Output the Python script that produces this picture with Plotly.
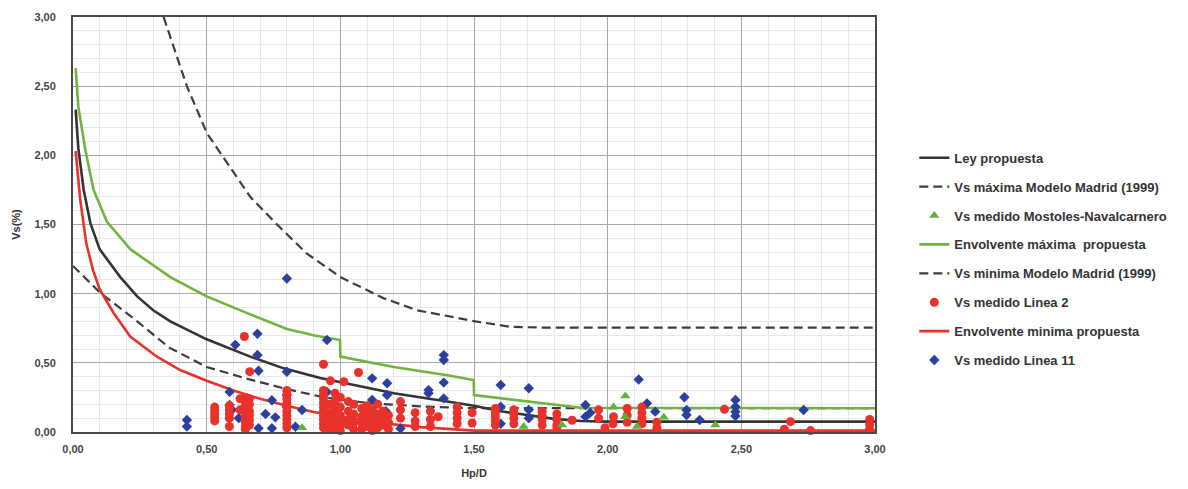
import plotly.graph_objects as go

# ---------------- curves ----------------
ley_x = [0.01, 0.02, 0.04, 0.065, 0.10, 0.177, 0.24, 0.30, 0.364, 0.50, 0.663, 0.788, 0.925, 1.00, 1.20, 1.40, 1.50, 1.60, 1.70, 1.80, 1.90, 2.00, 3.00]
ley_y = [2.33, 2.05, 1.75, 1.51, 1.32, 1.12, 0.98, 0.88, 0.80, 0.67, 0.545, 0.46, 0.39, 0.36, 0.28, 0.22, 0.19, 0.15, 0.12, 0.095, 0.08, 0.075, 0.075]

vsmax_x = [0.339, 0.426, 0.501, 0.557, 0.663, 0.763, 0.875, 1.00, 1.162, 1.287, 1.505, 1.636, 1.75, 3.00]
vsmax_y = [3.00, 2.50, 2.16, 2.00, 1.70, 1.50, 1.29, 1.12, 0.967, 0.88, 0.80, 0.76, 0.755, 0.755]

envmax_x = [0.01, 0.02, 0.046, 0.077, 0.127, 0.215, 0.364, 0.50, 0.663, 0.80, 0.90, 0.999, 1.00, 1.20, 1.40, 1.499, 1.50, 1.60, 1.70, 1.80, 1.90, 3.00]
envmax_y = [2.63, 2.35, 2.04, 1.75, 1.52, 1.32, 1.12, 0.98, 0.85, 0.745, 0.70, 0.665, 0.545, 0.47, 0.41, 0.376, 0.267, 0.244, 0.22, 0.195, 0.175, 0.172]

vsmin_x = [0.00, 0.10, 0.24, 0.36, 0.50, 0.66, 0.80, 0.94, 1.10, 1.30, 1.50, 3.00]
vsmin_y = [1.20, 1.01, 0.80, 0.61, 0.47, 0.38, 0.31, 0.25, 0.21, 0.185, 0.172, 0.172]

envmin_x = [0.01, 0.027, 0.05, 0.075, 0.10, 0.152, 0.214, 0.314, 0.401, 0.50, 0.60, 0.70, 0.80, 0.90, 1.00, 1.10, 1.20, 1.30, 1.40, 1.50, 3.00]
envmin_y = [2.03, 1.68, 1.36, 1.17, 1.03, 0.86, 0.69, 0.544, 0.448, 0.37, 0.30, 0.24, 0.19, 0.145, 0.11, 0.08, 0.055, 0.035, 0.02, 0.01, 0.01]

# ---------------- measured points ----------------
l2_x = [0.53, 0.53, 0.53, 0.53, 0.53,
        0.585, 0.585, 0.585, 0.585, 0.585,
        0.641, 0.645, 0.645, 0.645, 0.645, 0.645, 0.645, 0.645, 0.645, 0.645,
        0.661, 0.66, 0.66, 0.66, 0.66, 0.66, 0.66, 0.625, 0.625,
        0.80, 0.80, 0.80, 0.80, 0.80, 0.80, 0.80, 0.80, 0.80, 0.80,
        0.937, 0.937, 0.937, 0.937, 0.937, 0.937, 0.937, 0.937, 0.937, 0.937, 0.937,
        0.963, 0.96, 0.96, 0.96, 0.96, 0.96,
        0.98, 0.98, 0.98, 0.98, 0.98, 0.98,
        1.00, 1.00, 1.00, 1.00, 1.00, 1.00, 1.013,
        1.03, 1.03, 1.03, 1.03, 1.05, 1.05, 1.05, 1.05, 1.068,
        1.08, 1.08, 1.08, 1.08, 1.10, 1.10, 1.10, 1.10,
        1.12, 1.12, 1.12, 1.12, 1.14, 1.14, 1.14, 1.14,
        1.16, 1.16, 1.16, 1.18, 1.18, 1.18,
        1.225, 1.225, 1.225, 1.28, 1.28, 1.28, 1.337, 1.337, 1.337, 1.366,
        1.437, 1.437, 1.437, 1.437, 1.493, 1.493,
        1.58, 1.58, 1.58, 1.58, 1.58, 1.649, 1.649, 1.649, 1.649,
        1.755, 1.755, 1.755, 1.755, 1.81, 1.81, 1.81, 1.81, 1.867,
        1.966, 1.966, 1.99, 2.022, 2.02, 2.073, 2.073, 2.073,
        2.128, 2.128, 2.128, 2.128, 2.184, 2.184,
        2.437, 2.684, 2.661, 2.759, 2.98, 2.98, 2.98]
l2_y = [0.18, 0.155, 0.13, 0.105, 0.08,
        0.19, 0.16, 0.13, 0.10, 0.04,
        0.69, 0.25, 0.22, 0.19, 0.16, 0.13, 0.10, 0.07, 0.04, 0.02,
        0.436, 0.24, 0.20, 0.15, 0.12, 0.085, 0.05, 0.24, 0.16,
        0.30, 0.27, 0.24, 0.21, 0.18, 0.15, 0.12, 0.09, 0.06, 0.03,
        0.49, 0.30, 0.27, 0.24, 0.21, 0.18, 0.15, 0.12, 0.09, 0.06, 0.03,
        0.37, 0.20, 0.14, 0.10, 0.05, 0.02,
        0.28, 0.22, 0.16, 0.11, 0.07, 0.03,
        0.25, 0.18, 0.12, 0.08, 0.04, 0.01, 0.364,
        0.22, 0.15, 0.09, 0.05, 0.20, 0.13, 0.07, 0.02, 0.43,
        0.17, 0.11, 0.06, 0.02, 0.19, 0.14, 0.09, 0.04,
        0.16, 0.10, 0.05, 0.01, 0.20, 0.13, 0.08, 0.03,
        0.15, 0.10, 0.05, 0.12, 0.07, 0.02,
        0.22, 0.16, 0.10, 0.14, 0.08, 0.04, 0.15, 0.09, 0.04, 0.11,
        0.18, 0.14, 0.10, 0.06, 0.14, 0.065,
        0.17, 0.14, 0.11, 0.08, 0.05, 0.16, 0.13, 0.10, 0.06,
        0.15, 0.12, 0.09, 0.05, 0.13, 0.09, 0.05, 0.03, 0.085,
        0.16, 0.10, 0.03, 0.11, 0.06, 0.17, 0.12, 0.07,
        0.18, 0.14, 0.10, 0.06, 0.07, 0.03,
        0.164, 0.075, 0.02, 0.01, 0.09, 0.055, 0.02]

l11_x = [0.426, 0.426, 0.586, 0.586, 0.595, 0.607, 0.62, 0.69, 0.69, 0.694, 0.694, 0.72,
         0.744, 0.757, 0.744, 0.80, 0.80, 0.80, 0.80, 0.857, 0.832, 0.95, 0.95,
         1.031, 1.119, 1.175, 1.119, 1.175, 1.17, 1.225, 1.33, 1.33,
         1.387, 1.387, 1.387, 1.387, 1.60, 1.60, 1.60, 1.705, 1.705, 1.705,
         1.917, 1.917, 1.935, 2.116, 2.147, 2.178,
         2.287, 2.295, 2.295, 2.344, 2.478, 2.478, 2.478, 2.478, 2.733]
l11_y = [0.087, 0.04, 0.29, 0.195, 0.16, 0.63, 0.10, 0.71, 0.557, 0.443, 0.027, 0.13,
         0.23, 0.106, 0.027, 1.11, 0.436, 0.267, 0.183, 0.159, 0.038, 0.665, 0.29,
         0.075, 0.388, 0.352, 0.231, 0.268, 0.15, 0.025, 0.303, 0.28,
         0.556, 0.52, 0.357, 0.243, 0.34, 0.183, 0.06, 0.316, 0.16, 0.10,
         0.195, 0.11, 0.14, 0.38, 0.207, 0.147,
         0.251, 0.159, 0.123, 0.087, 0.231, 0.183, 0.147, 0.116, 0.159]

mn_x = [0.857, 1.686, 1.829, 2.022, 2.066, 2.066, 2.11, 2.21, 2.403]
mn_y = [0.03, 0.04, 0.05, 0.18, 0.26, 0.11, 0.04, 0.106, 0.05]

# legend labels
names = ["Ley propuesta",
         "Vs máxima Modelo Madrid (1999)",
         "Vs medido Mostoles-Navalcarnero",
         "Envolvente máxima  propuesta",
         "Vs minima Modelo Madrid (1999)",
         "Vs medido Linea 2",
         "Envolvente minima propuesta",
         "Vs medido Linea 11"]

tick_vals = [0, 0.5, 1.0, 1.5, 2.0, 2.5, 3.0]
tick_text = ["0,00", "0,50", "1,00", "1,50", "2,00", "2,50", "3,00"]

GREEN = "#72b33f"
RED = "#e8322b"
BLUE = "#2b3f9e"
BLACK = "#333333"
DASH = "#3d3d3d"

fig = go.Figure()

def line(x, y, name, color, rank, dash=None, width=2.6):
    fig.add_trace(go.Scatter(x=x, y=y, mode="lines", name=name, legendrank=rank,
                             legendgroup=name,
                             line=dict(color=color, width=width,
                                       dash=dash if dash else "solid")))

line(vsmax_x, vsmax_y, names[1], DASH, 2, dash="9px,5px", width=2.2)
line(vsmin_x, vsmin_y, names[4], DASH, 5, dash="9px,5px", width=2.2)
line(envmax_x, envmax_y, names[3], GREEN, 4)
line(envmin_x, envmin_y, names[6], RED, 7)
line(ley_x, ley_y, names[0], BLACK, 1)

fig.add_trace(go.Scatter(x=l11_x, y=l11_y, mode="markers", name=names[7], legendrank=8,
                         legendgroup=names[7], cliponaxis=False,
                         marker=dict(symbol="diamond", size=8, color=BLUE)))
fig.add_trace(go.Scatter(x=l2_x, y=l2_y, mode="markers", name=names[5], legendrank=6,
                         legendgroup=names[5], cliponaxis=False,
                         marker=dict(symbol="circle", size=9, color=RED)))
fig.add_trace(go.Scatter(x=mn_x, y=mn_y, mode="markers", name=names[2], legendrank=3,
                         legendgroup=names[2], cliponaxis=False,
                         marker=dict(symbol="triangle-up", size=9, color="#5db33a")))

axis_common = dict(range=[0, 3], tickvals=tick_vals, ticktext=tick_text,
                   showgrid=True, gridcolor="#a8a8a8", gridwidth=1,
                   showline=True, linecolor="#4a4a4a", linewidth=2, mirror=True,
                   zeroline=False, ticks="", automargin=False,
                   tickfont=dict(family="Liberation Sans", size=11, color="#444444", weight="bold"),
                   minor=dict(dtick=0.1, showgrid=True, gridcolor="#e8e8e8", gridwidth=1))

fig.update_xaxes(**axis_common, ticklabelstandoff=6,
                 title=dict(text="<b>Hp/D</b>", standoff=15,
                            font=dict(family="Liberation Sans", size=11, color="#333333")))
fig.update_yaxes(**axis_common, ticklabelstandoff=13,
                 title=dict(text="<b>Vs(%)</b>", standoff=12,
                            font=dict(family="Liberation Sans", size=11, color="#333333")))

# the page body adds an 8px offset, margins compensate for it
fig.update_layout(
    width=1188, height=489,
    margin=dict(l=65, r=321, t=9, b=65),
    paper_bgcolor="white", plot_bgcolor="white",
    font=dict(family="Liberation Sans", color="#333333"),
    showlegend=True,
    legend=dict(x=1.049, y=0.697, xanchor="left", yanchor="top",
                font=dict(family="Liberation Sans", size=13, color="#333333", weight="bold"),
                tracegroupgap=9, itemwidth=30, bgcolor="rgba(0,0,0,0)"),
)

fig.write_html("out.html")
